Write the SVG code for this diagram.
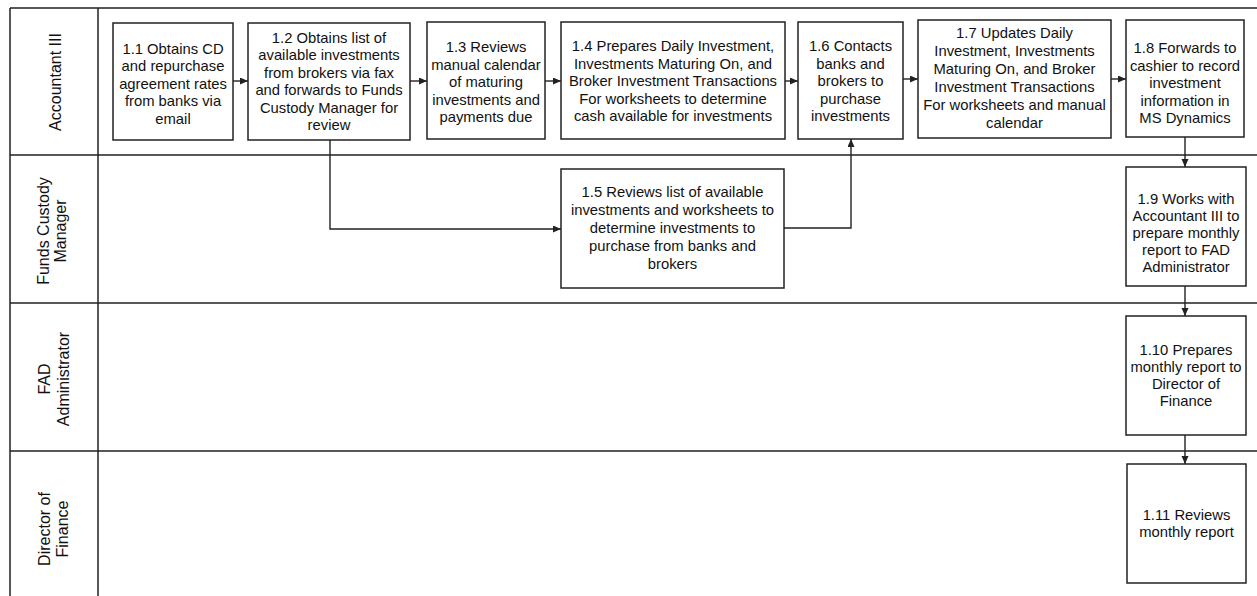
<svg xmlns="http://www.w3.org/2000/svg" width="1257" height="596" viewBox="0 0 1257 596">
<style>
  .lane { stroke: #222; stroke-width: 1.5; fill: none; }
  .box { fill: #fff; stroke: #222; stroke-width: 1.5; }
  .t { font-family: "Liberation Sans", Arial, sans-serif; font-size: 14.8px; fill: #111; text-anchor: middle; }
  .lbl { font-family: "Liberation Sans", Arial, sans-serif; font-size: 16px; fill: #111; text-anchor: middle; }
  .c { stroke: #222; stroke-width: 1.4; fill: none; }
</style>
<defs>
  <marker id="ah" markerUnits="userSpaceOnUse" markerWidth="9" markerHeight="8" refX="8" refY="3.5" orient="auto">
    <path d="M0,0 L8,3.5 L0,7 z" fill="#222"/>
  </marker>
</defs>
<rect width="1257" height="596" fill="#fff"/>

<g id="lanes">
  <path class="lane" d="M10,8 H1257 M10,8 V596 M98,8 V596 M10,155 H1257 M10,303 H1257 M10,451 H1257"/>
  <text class="lbl" transform="translate(61,82) rotate(-90)">Accountant III</text>
  <text class="lbl" transform="translate(49,231) rotate(-90)">Funds Custody</text>
  <text class="lbl" transform="translate(66,231) rotate(-90)">Manager</text>
  <text class="lbl" transform="translate(50,379) rotate(-90)">FAD</text>
  <text class="lbl" transform="translate(69,379) rotate(-90)">Administrator</text>
  <text class="lbl" transform="translate(50,529) rotate(-90)">Director of</text>
  <text class="lbl" transform="translate(68,529) rotate(-90)">Finance</text>
</g>

<g id="connectors">
  <path class="c" d="M233,81 H248" marker-end="url(#ah)"/>
  <path class="c" d="M410,81 H427" marker-end="url(#ah)"/>
  <path class="c" d="M545,81 H561" marker-end="url(#ah)"/>
  <path class="c" d="M785,81 H798" marker-end="url(#ah)"/>
  <path class="c" d="M903,79 H918" marker-end="url(#ah)"/>
  <path class="c" d="M1111,79 H1126" marker-end="url(#ah)"/>
  <path class="c" d="M330,140 V229 H561" marker-end="url(#ah)"/>
  <path class="c" d="M784,228 H851 V139" marker-end="url(#ah)"/>
  <path class="c" d="M1185,137 V167" marker-end="url(#ah)"/>
  <path class="c" d="M1185,286 V316" marker-end="url(#ah)"/>
  <path class="c" d="M1185,435 V464" marker-end="url(#ah)"/>
</g>

<g id="n1_1">
  <rect class="box" x="113" y="23" width="120" height="117"/>
  <text class="t"><tspan x="173" y="53.5">1.1 Obtains CD</tspan><tspan x="173" y="71">and repurchase</tspan><tspan x="173" y="88.5">agreement rates</tspan><tspan x="173" y="106">from banks via</tspan><tspan x="173" y="123.5">email</tspan></text>
</g>
<g id="n1_2">
  <rect class="box" x="248" y="23" width="162" height="117"/>
  <text class="t"><tspan x="329" y="42.5">1.2 Obtains list of</tspan><tspan x="329" y="60">available investments</tspan><tspan x="329" y="77.5">from brokers via fax</tspan><tspan x="329" y="95">and forwards to Funds</tspan><tspan x="329" y="112.5">Custody Manager for</tspan><tspan x="329" y="130">review</tspan></text>
</g>
<g id="n1_3">
  <rect class="box" x="427" y="22" width="118" height="117"/>
  <text class="t"><tspan x="486" y="52">1.3 Reviews</tspan><tspan x="486" y="69.5">manual calendar</tspan><tspan x="486" y="87">of maturing</tspan><tspan x="486" y="104.5">investments and</tspan><tspan x="486" y="122">payments due</tspan></text>
</g>
<g id="n1_4">
  <rect class="box" x="561" y="22" width="224" height="117"/>
  <text class="t"><tspan x="673" y="51">1.4 Prepares Daily Investment,</tspan><tspan x="673" y="68.5">Investments Maturing On, and</tspan><tspan x="673" y="86">Broker Investment Transactions</tspan><tspan x="673" y="103.5">For worksheets to determine</tspan><tspan x="673" y="121">cash available for investments</tspan></text>
</g>
<g id="n1_6">
  <rect class="box" x="798" y="22" width="105" height="117"/>
  <text class="t"><tspan x="850.5" y="51">1.6 Contacts</tspan><tspan x="850.5" y="68.5">banks and</tspan><tspan x="850.5" y="86">brokers to</tspan><tspan x="850.5" y="103.5">purchase</tspan><tspan x="850.5" y="121">investments</tspan></text>
</g>
<g id="n1_7">
  <rect class="box" x="918" y="20" width="193" height="118"/>
  <text class="t"><tspan x="1014.5" y="38">1.7 Updates Daily</tspan><tspan x="1014.5" y="56">Investment, Investments</tspan><tspan x="1014.5" y="74">Maturing On, and Broker</tspan><tspan x="1014.5" y="92">Investment Transactions</tspan><tspan x="1014.5" y="110">For worksheets and manual</tspan><tspan x="1014.5" y="128">calendar</tspan></text>
</g>
<g id="n1_8">
  <rect class="box" x="1126" y="20" width="118" height="117"/>
  <text class="t"><tspan x="1185" y="53">1.8  Forwards to</tspan><tspan x="1185" y="70.5">cashier to record</tspan><tspan x="1185" y="88">investment</tspan><tspan x="1185" y="105.5">information in</tspan><tspan x="1185" y="123">MS  Dynamics</tspan></text>
</g>
<g id="n1_5">
  <rect class="box" x="561" y="169" width="223" height="119"/>
  <text class="t"><tspan x="672.5" y="197">1.5 Reviews list of available</tspan><tspan x="672.5" y="215">investments and worksheets to</tspan><tspan x="672.5" y="233">determine investments to</tspan><tspan x="672.5" y="251">purchase from banks and</tspan><tspan x="672.5" y="269">brokers</tspan></text>
</g>
<g id="n1_9">
  <rect class="box" x="1126" y="167" width="120" height="119"/>
  <text class="t"><tspan x="1186" y="204">1.9 Works with</tspan><tspan x="1186" y="221">Accountant III to</tspan><tspan x="1186" y="238">prepare monthly</tspan><tspan x="1186" y="255">report to FAD</tspan><tspan x="1186" y="272">Administrator</tspan></text>
</g>
<g id="n1_10">
  <rect class="box" x="1126" y="316" width="120" height="119"/>
  <text class="t"><tspan x="1186" y="354.5">1.10 Prepares</tspan><tspan x="1186" y="371.5">monthly report to</tspan><tspan x="1186" y="388.5">Director of</tspan><tspan x="1186" y="405.5">Finance</tspan></text>
</g>
<g id="n1_11">
  <rect class="box" x="1127" y="464" width="119" height="119"/>
  <text class="t"><tspan x="1186.5" y="520">1.11 Reviews</tspan><tspan x="1186.5" y="537">monthly report</tspan></text>
</g>
</svg>
